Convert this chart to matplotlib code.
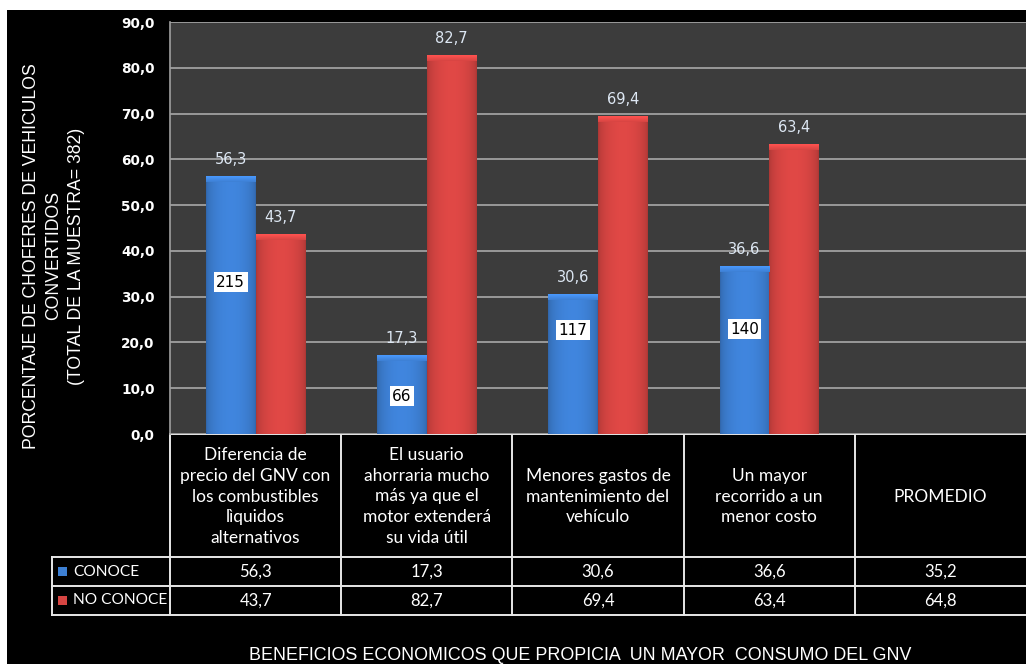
import matplotlib
matplotlib.use("Agg")
import matplotlib.pyplot as plt
import numpy as np
from matplotlib.patches import Rectangle
from matplotlib.lines import Line2D

# ---------------- data ----------------
categories = [
    "Diferencia de\nprecio del GNV con\nlos combustibles\nlìquidos\nalternativos",
    "El usuario\nahorraria mucho\nmás ya que el\nmotor extenderá\nsu vida útil",
    "Menores gastos de\nmantenimiento del\nvehículo",
    "Un mayor\nrecorrido a un\nmenor costo",
    "PROMEDIO",
]
conoce = [56.3, 17.3, 30.6, 36.6, 35.2]
no_conoce = [43.7, 82.7, 69.4, 63.4, 64.8]
bar_shown = [True, True, True, True, False]  # PROMEDIO has no bars in the chart
counts = [215, 66, 117, 140]
count_label_y = [33.2, 8.3, 22.7, 22.9]
series_names = ["CONOCE", "NO CONOCE"]
yticks = [0, 10, 20, 30, 40, 50, 60, 70, 80, 90]
ylabel = "PORCENTAJE DE CHOFERES DE VEHICULOS\nCONVERTIDOS\n(TOTAL DE LA MUESTRA= 382)"
xlabel = "BENEFICIOS ECONOMICOS QUE PROPICIA  UN MAYOR  CONSUMO DEL GNV"

W, H = 1026, 664
fig = plt.figure(figsize=(W / 100, H / 100), dpi=100, facecolor="white")

# overlay axes in pixel coordinates (background + table)
ov = fig.add_axes([0, 0, 1, 1], zorder=0)
ov.set_xlim(0, W)
ov.set_ylim(H, 0)
ov.axis("off")
ov.add_patch(Rectangle((7, 10), W - 7, H - 10, facecolor="black", edgecolor="none"))

# plot area
px_left, px_right, px_top, px_bottom = 170, 1026, 22, 434
ax = fig.add_axes([px_left / W, 1 - px_bottom / H, (px_right - px_left) / W,
                   (px_bottom - px_top) / H], zorder=2)
ax.set_facecolor("#3c3c3c")
n = len(categories)
x = np.arange(n)
bw = 0.29

blue_c = np.array([0.24, 0.50, 0.83])
red_c = np.array([0.84, 0.27, 0.26])

def shaded_bars(xpos, vals, base):
    bars = ax.bar(xpos, vals, width=bw, color=base, zorder=3, linewidth=0)
    for b in bars:
        if b.get_height() <= 0:
            continue
        x0, w, h = b.get_x(), b.get_width(), b.get_height()
        t = np.linspace(0, 1, 64)
        shade = 0.80 + 0.25 * np.sin(np.pi * t) ** 0.5
        img = np.clip(base[None, :] * shade[:, None], 0, 1)[None, :, :]
        im = ax.imshow(img, extent=(x0, x0 + w, 0, h), aspect="auto",
                       zorder=4, interpolation="bilinear")
        im.set_clip_path(b)
        # soft bevel at the top
        tt = np.linspace(0, 1, 16)
        cap = np.clip(base[None, :] * (1.0 + 0.2 * tt[:, None]), 0, 1)[:, None, :]
        im2 = ax.imshow(cap, extent=(x0, x0 + w, h - 1.3, h), aspect="auto",
                        zorder=5, interpolation="bilinear", origin="lower")
        im2.set_clip_path(b)
    return bars

cv = [v if s else 0 for v, s in zip(conoce, bar_shown)]
nv = [v if s else 0 for v, s in zip(no_conoce, bar_shown)]
bars_c = shaded_bars(x - bw / 2, cv, blue_c)
bars_n = shaded_bars(x + bw / 2, nv, red_c)

lbl_col = "#dde7f3"
for xs, vals, shown in ((x - bw / 2, conoce, bar_shown), (x + bw / 2, no_conoce, bar_shown)):
    for xi, v, s in zip(xs, vals, shown):
        if s:
            ax.text(xi, v + 2.0, f"{v:.1f}".replace(".", ","), ha="center",
                    va="bottom", color=lbl_col, fontsize=10.5,
                    family="DejaVu Sans", zorder=6)

for xi, c, yy in zip(x - bw / 2, counts, count_label_y):
    ax.text(xi, yy, str(c), ha="center", va="center", fontsize=11,
            color="black", family="DejaVu Sans", zorder=7,
            bbox=dict(boxstyle="square,pad=0.15", facecolor="white",
                      edgecolor="none"))

ax.set_xlim(-0.5, n - 0.5)
ax.set_ylim(0, 90)
ax.set_yticks(yticks)
ax.set_yticklabels([f"{t:.1f}".replace(".", ",") for t in yticks],
                   color="white", fontsize=9.8, fontweight="bold",
                   family="DejaVu Sans")
ax.tick_params(axis="y", length=0, pad=11)
ax.set_xticks([])
ax.grid(axis="y", color="#a0a0a0", linewidth=1.3, zorder=1)
ax.set_axisbelow(True)
for s in ("top", "right", "bottom"):
    ax.spines[s].set_visible(False)
ax.spines["left"].set_color("#a0a0a0")
ax.spines["left"].set_linewidth(1.2)

# ---------------- table ----------------
lc = "#e8e8e8"
lw = 1.4
col_w = (px_right - px_left) / n
row_hdr_bot, row1_bot, row2_bot = 557, 586, 615
leg_left = 52

def hline(y, x0, x1):
    ov.add_line(Line2D([x0, x1], [y, y], color=lc, lw=lw))

def vline(xp, y0, y1):
    ov.add_line(Line2D([xp, xp], [y0, y1], color=lc, lw=lw))

hline(px_bottom, px_left, px_right)
hline(row_hdr_bot, leg_left, px_right)
hline(row1_bot, leg_left, px_right)
hline(row2_bot, leg_left, px_right)
vline(leg_left, row_hdr_bot, row2_bot)
for i in range(n):
    vline(px_left + i * col_w, px_bottom, row2_bot)

hfont = dict(family="Lato", color="white", fontsize=12.5)
tfont = dict(family="Lato", color="white", fontsize=12)
for i, cat in enumerate(categories):
    cx = px_left + (i + 0.5) * col_w
    ov.text(cx, (px_bottom + row_hdr_bot) / 2 + 1, cat, ha="center",
            va="center", linespacing=1.38, **hfont)
    ov.text(cx, (row_hdr_bot + row1_bot) / 2, f"{conoce[i]:.1f}".replace(".", ","),
            ha="center", va="center", **tfont)
    ov.text(cx, (row1_bot + row2_bot) / 2, f"{no_conoce[i]:.1f}".replace(".", ","),
            ha="center", va="center", **tfont)

for (y0, y1), name, col in zip(((row_hdr_bot, row1_bot), (row1_bot, row2_bot)),
                               series_names, (blue_c, red_c)):
    yc = (y0 + y1) / 2
    ov.add_patch(Rectangle((58, yc - 4.5), 9, 9, facecolor=col, edgecolor="none"))
    ov.text(73, yc, name, ha="left", va="center", family="Lato", color="white",
            fontsize=11.2)

# axis titles
ov.text(54, 256, ylabel, rotation=90, ha="center", va="center", color="white",
        fontsize=12.7, family="Liberation Sans", linespacing=1.45)
ov.text(580, 655, xlabel, ha="center", va="center", color="white",
        fontsize=12.9, family="Liberation Sans")

fig.savefig("out.png", dpi=100, facecolor=fig.get_facecolor())
